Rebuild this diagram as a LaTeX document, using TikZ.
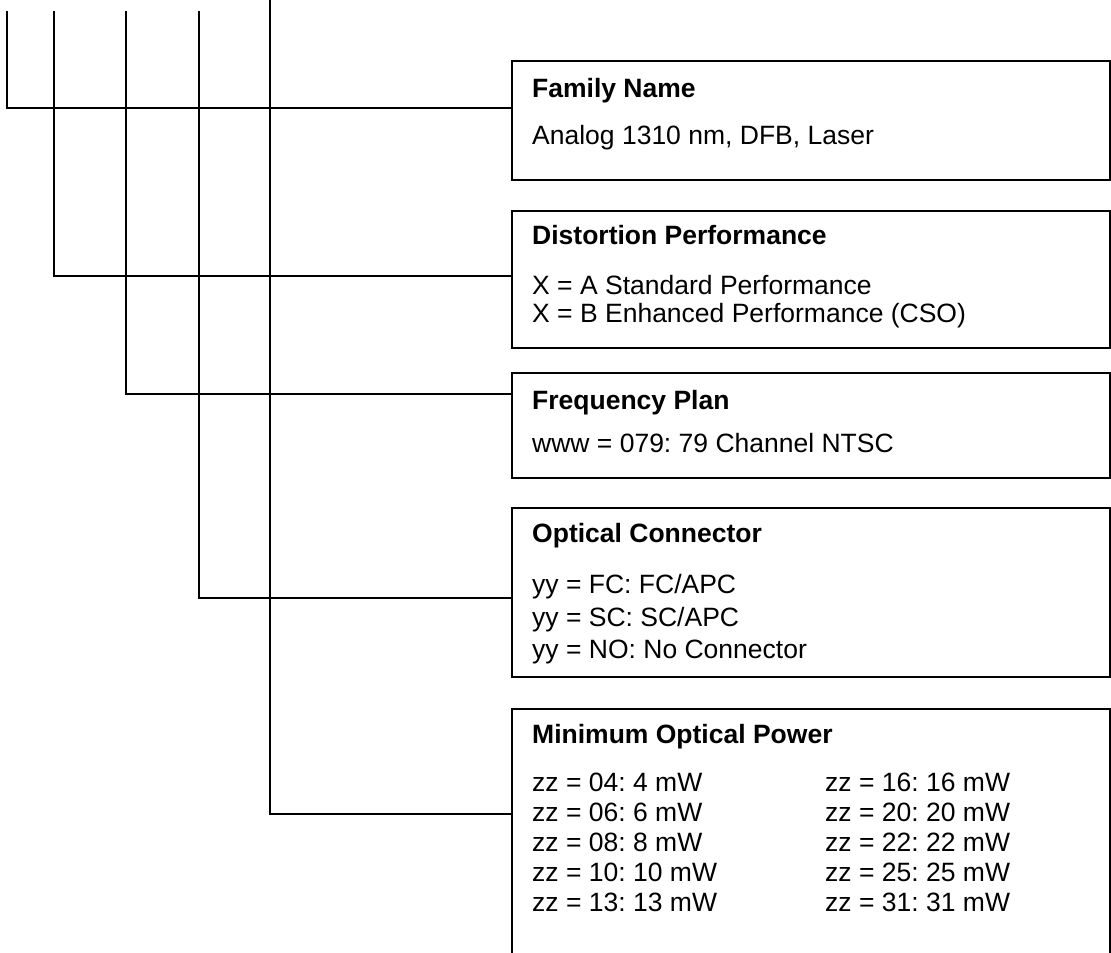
\documentclass[tikz,border=0pt]{standalone}
\usepackage{fontspec}
\setmainfont{Liberation Sans}
\frenchspacing
\begin{document}
\frenchspacing
\begin{tikzpicture}[x=1pt,y=-1pt,
  wire/.style={line width=1.8pt, line cap=rect},
  box/.style={draw, line width=1.8pt, rectangle, anchor=north west, minimum width=598pt, inner sep=0pt},
  ttl/.style={anchor=west, inner sep=0pt, text height=19pt, text depth=0pt, font=\fontsize{26.5}{30}\selectfont\bfseries},
  txt/.style={anchor=west, inner sep=0pt, text height=19pt, text depth=0pt, font=\fontsize{26.5}{30}\selectfont}]
\useasboundingbox (0,0) rectangle (1111,953);
\clip (0,0) rectangle (1111,953);
% boxes
\node[box, minimum height=119pt] (b1) at (511,60) {};
\node[box, minimum height=137pt] (b2) at (511,210) {};
\node[box, minimum height=105pt] (b3) at (511,372) {};
\node[box, minimum height=169pt] (b4) at (511,507) {};
\node[box, minimum height=300pt] (b5) at (511,708) {};
% tops of the lines
\coordinate (t1) at (7,12);
\coordinate (t2) at (54,12);
\coordinate (t3) at (126,12);
\coordinate (t4) at (199,12);
\coordinate (t5) at (270,-3);
% connectors
\draw[wire] (t1) |- (b1.west |- 0,108);
\draw[wire] (t2) |- (b2.west |- 0,276);
\draw[wire] (t3) |- (b3.west |- 0,394);
\draw[wire] (t4) |- (b4.west |- 0,598);
\draw[wire] (t5) |- (b5.west |- 0,814);
% texts
\node[ttl] (h1) at (532,88) {Family Name};
\node[txt] (a1) at (532,135) {Analog 1310 nm, DFB, Laser};
\node[ttl] (h2) at (532,235) {Distortion Performance};
\node[txt] (a2) at (532,285) {X = A Standard Performance};
\node[txt] (b2l) at (532,313) {X = B Enhanced Performance (CSO)};
\node[ttl] (h3) at (532,400) {Frequency Plan};
\node[txt] (a3) at (532,443) {www = 079: 79 Channel NTSC};
\node[ttl] (h4) at (532,533) {Optical Connector};
\node[txt] (a4) at (532,584) {yy = FC: FC/APC};
\node[txt] (b4l) at (532,617) {yy = SC: SC/APC};
\node[txt] (c4) at (532,649) {yy = NO: No Connector};
\node[ttl] (h5) at (532,734) {Minimum Optical Power};
\node[txt] (p1) at (532,782) {zz = 04: 4 mW};
\node[txt] (p2) at (532,812) {zz = 06: 6 mW};
\node[txt] (p3) at (532,842) {zz = 08: 8 mW};
\node[txt] (p4) at (532,872) {zz = 10: 10 mW};
\node[txt] (p5) at (532,902) {zz = 13: 13 mW};
\node[txt] (q1) at (825,782) {zz = 16: 16 mW};
\node[txt] (q2) at (825,812) {zz = 20: 20 mW};
\node[txt] (q3) at (825,842) {zz = 22: 22 mW};
\node[txt] (q4) at (825,872) {zz = 25: 25 mW};
\node[txt] (q5) at (825,902) {zz = 31: 31 mW};
\end{tikzpicture}
\end{document}
